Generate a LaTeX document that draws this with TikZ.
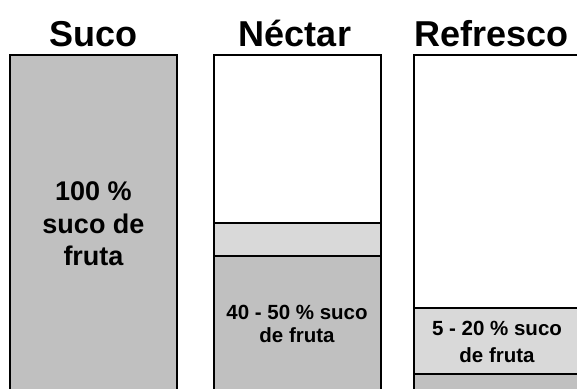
\documentclass[tikz,border=0pt]{standalone}
\usepackage{fontspec}
\setmainfont{Liberation Sans}
\definecolor{darkgr}{RGB}{192,192,192}
\definecolor{lightgr}{RGB}{217,217,217}
\begin{document}
\begin{tikzpicture}[x=1pt,y=-1pt,
  edge/.style={draw=black,line width=2pt},
  title/.style={anchor=base,inner sep=0pt,font=\fontsize{36}{40}\selectfont\bfseries},
  biglbl/.style={anchor=base,inner sep=0pt,font=\fontsize{27}{32}\selectfont\bfseries},
  lbl/.style={anchor=base,inner sep=0pt,font=\fontsize{20.5}{24}\selectfont\bfseries}]
\useasboundingbox (0,0) rectangle (577,388);
\clip (0,0) rectangle (577,388);
% Suco
\fill[darkgr] (9.5,55) rectangle (177,400);
\draw[edge] (9.5,400) -- (9.5,55) -- (177,55) -- (177,400);
% Nectar
\fill[white] (213.5,55) rectangle (380.5,222.5);
\fill[lightgr] (213.5,222.5) rectangle (380.5,256);
\fill[darkgr] (213.5,256) rectangle (380.5,400);
\draw[edge] (213.5,400) -- (213.5,55) -- (380.5,55) -- (380.5,400);
\draw[edge] (213.5,222.5) -- (380.5,222.5);
\draw[edge] (213.5,256) -- (380.5,256);
% Refresco
\fill[white] (413.5,55) rectangle (582,307.5);
\fill[lightgr] (413.5,307.5) rectangle (582,373.5);
\fill[darkgr] (413.5,373.5) rectangle (582,400);
\draw[edge] (413.5,400) -- (413.5,55) -- (582,55) -- (582,400);
\draw[edge] (413.5,307.5) -- (582,307.5);
\draw[edge] (413.5,373.5) -- (582,373.5);
% titles
\node[title] (t1) at (93.5,46) {Suco};
\node[title] (t2) at (295,46) {Néctar};
\node[title] (t3) at (491.5,46) {Refresco};
% labels
\node[biglbl] (s1) at (93.5,200) {100 \%};
\node[biglbl] (s2) at (93.5,233) {suco de};
\node[biglbl] (s3) at (93.5,265.5) {fruta};
\node[lbl] (n1) at (297,319.3) {40 - 50 \% suco};
\node[lbl] (n2) at (297,342.7) {de fruta};
\node[lbl] (r1) at (497,335.7) {5 - 20 \% suco};
\node[lbl] (r2) at (497,362) {de fruta};
\end{tikzpicture}
\end{document}
